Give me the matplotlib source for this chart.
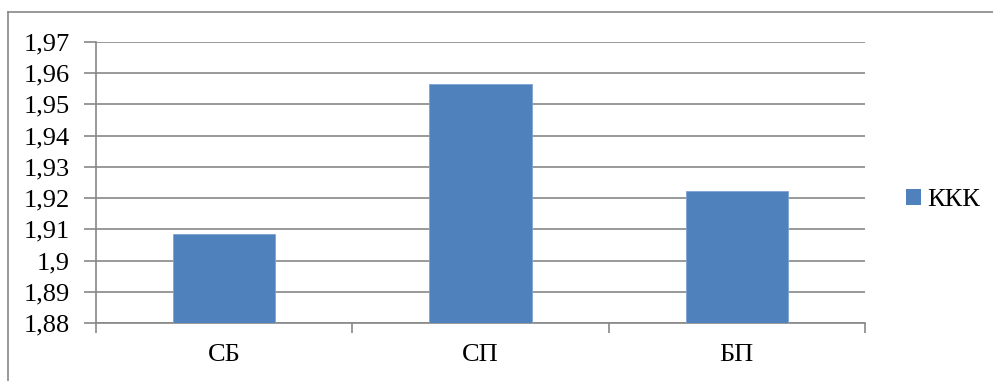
import matplotlib
import matplotlib.pyplot as plt
from matplotlib.lines import Line2D
from matplotlib.patches import Patch
from matplotlib.ticker import FuncFormatter, MultipleLocator

matplotlib.use('Agg')

categories = ['СБ', 'СП', 'БП']
kkk_values = [1.9085, 1.9565, 1.9223]
series_name = 'ККК'

BAR_COLOR = '#4f81bd'
GRID_COLOR = '#878787'

plt.rcParams['font.family'] = ['Liberation Serif', 'DejaVu Serif']
plt.rcParams['font.size'] = 19


def comma_fmt(v, pos):
    s = f'{v:.2f}'.rstrip('0').rstrip('.')
    return s.replace('.', ',')


fig = plt.figure(figsize=(9.93, 3.81), dpi=100)
ax = fig.add_axes([96 / 993, 1 - 323 / 381, (865 - 96) / 993, (323 - 42) / 381])

centers = [i + 0.5 for i in range(len(categories))]
ax.bar(centers, kkk_values, width=0.4, bottom=0, color=BAR_COLOR,
       edgecolor='#7fa3d3', linewidth=0.6, zorder=3)

ax.set_xlim(0, len(categories))
ax.set_ylim(1.88, 1.97)
ax.yaxis.set_major_locator(MultipleLocator(0.01))
ax.yaxis.set_major_formatter(FuncFormatter(comma_fmt))
ax.grid(axis='y', color=GRID_COLOR, linewidth=1.2, zorder=0)

# category boundaries get the tick marks, names sit in between
ax.set_xticks(range(len(categories) + 1))
ax.set_xticklabels([])
ax.set_xticks(centers, minor=True)
ax.set_xticklabels(categories, minor=True)
ax.tick_params(axis='x', which='major', length=7, width=1.2, color=GRID_COLOR)
ax.tick_params(axis='x', which='minor', length=0, pad=15)
ax.tick_params(axis='y', length=9, width=1.2, color=GRID_COLOR, pad=10)

for side in ('top', 'right'):
    ax.spines[side].set_visible(False)
for side in ('left', 'bottom'):
    ax.spines[side].set_color(GRID_COLOR)
    ax.spines[side].set_linewidth(1.2)

fig.legend(handles=[Patch(facecolor=BAR_COLOR, label=series_name)],
           loc='center left', bbox_to_anchor=(906 / 993, 1 - 200 / 381),
           frameon=False, handlelength=0.55, handleheight=0.55,
           handletextpad=0.25, borderpad=0, borderaxespad=0)

# outer chart frame (cut off at right and bottom)
fig.add_artist(Line2D([8 / 993, 8 / 993], [0, 1 - 12 / 381],
                      transform=fig.transFigure, color=GRID_COLOR, linewidth=1.2))
fig.add_artist(Line2D([8 / 993, 1], [1 - 12 / 381, 1 - 12 / 381],
                      transform=fig.transFigure, color=GRID_COLOR, linewidth=1.2))

fig.savefig('out.png', dpi=100)
